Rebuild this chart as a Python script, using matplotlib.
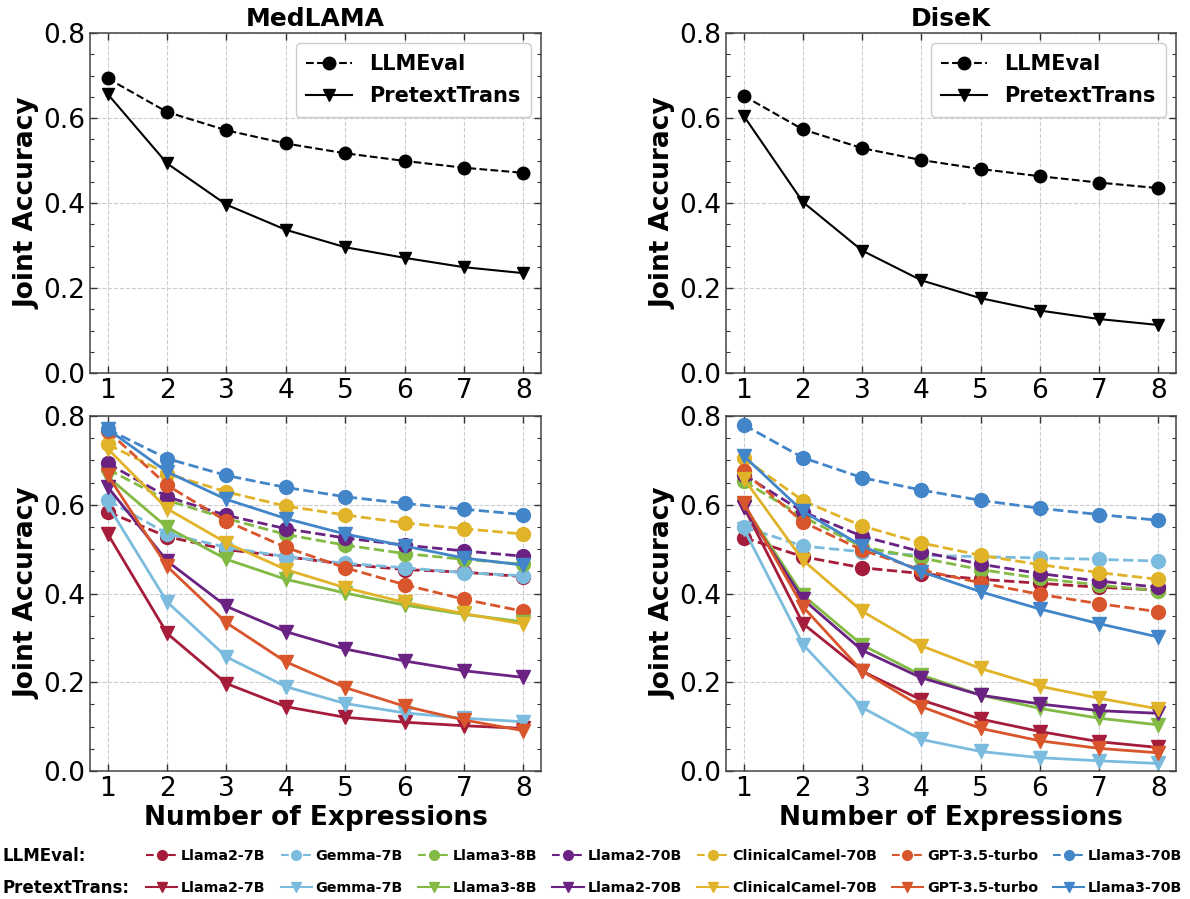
import numpy as np
import matplotlib
matplotlib.use("Agg")
import matplotlib.pyplot as plt
from matplotlib.lines import Line2D
from matplotlib.ticker import MultipleLocator

x = [1, 2, 3, 4, 5, 6, 7, 8]

models = ["Llama2-7B", "Gemma-7B", "Llama3-8B", "Llama2-70B",
          "ClinicalCamel-70B", "GPT-3.5-turbo", "Llama3-70B"]
colors = ["#A51D3A", "#7BBCDE", "#82BA44", "#6A2383",
          "#E0B329", "#D9552B", "#4285C8"]

# averaged curves (top row)
med_llmeval = [0.693, 0.614, 0.571, 0.540, 0.517, 0.499, 0.483, 0.471]
med_pretext = [0.656, 0.493, 0.396, 0.337, 0.296, 0.271, 0.249, 0.235]
dis_llmeval = [0.652, 0.573, 0.529, 0.501, 0.480, 0.463, 0.448, 0.435]
dis_pretext = [0.605, 0.402, 0.288, 0.218, 0.176, 0.147, 0.127, 0.113]

# per model curves (bottom row), same order as models
med_llm_models = [
    [0.584, 0.528, 0.499, 0.483, 0.466, 0.454, 0.448, 0.438],
    [0.610, 0.535, 0.504, 0.483, 0.468, 0.458, 0.447, 0.440],
    [0.680, 0.610, 0.569, 0.533, 0.509, 0.490, 0.477, 0.466],
    [0.693, 0.618, 0.576, 0.546, 0.525, 0.509, 0.496, 0.484],
    [0.736, 0.670, 0.629, 0.597, 0.577, 0.559, 0.546, 0.534],
    [0.766, 0.644, 0.563, 0.504, 0.458, 0.420, 0.387, 0.360],
    [0.770, 0.704, 0.666, 0.639, 0.618, 0.603, 0.590, 0.578],
]
med_pre_models = [
    [0.534, 0.310, 0.197, 0.145, 0.121, 0.110, 0.102, 0.096],
    [0.599, 0.381, 0.257, 0.190, 0.152, 0.131, 0.119, 0.111],
    [0.663, 0.549, 0.477, 0.432, 0.401, 0.374, 0.353, 0.336],
    [0.640, 0.473, 0.371, 0.314, 0.275, 0.248, 0.226, 0.211],
    [0.726, 0.591, 0.514, 0.454, 0.413, 0.380, 0.355, 0.331],
    [0.666, 0.461, 0.334, 0.246, 0.188, 0.146, 0.115, 0.091],
    [0.770, 0.674, 0.612, 0.569, 0.534, 0.507, 0.480, 0.464],
]
dis_llm_models = [
    [0.526, 0.483, 0.458, 0.445, 0.432, 0.423, 0.414, 0.408],
    [0.550, 0.507, 0.494, 0.486, 0.483, 0.480, 0.477, 0.473],
    [0.653, 0.573, 0.505, 0.480, 0.454, 0.434, 0.419, 0.406],
    [0.668, 0.584, 0.529, 0.494, 0.466, 0.445, 0.428, 0.414],
    [0.705, 0.609, 0.552, 0.514, 0.486, 0.465, 0.447, 0.432],
    [0.675, 0.561, 0.498, 0.453, 0.424, 0.398, 0.377, 0.359],
    [0.780, 0.706, 0.661, 0.633, 0.610, 0.592, 0.578, 0.565],
]
dis_pre_models = [
    [0.595, 0.332, 0.225, 0.160, 0.117, 0.089, 0.066, 0.053],
    [0.546, 0.285, 0.143, 0.071, 0.044, 0.030, 0.023, 0.017],
    [0.599, 0.396, 0.284, 0.216, 0.171, 0.141, 0.119, 0.104],
    [0.594, 0.387, 0.272, 0.210, 0.171, 0.151, 0.136, 0.130],
    [0.659, 0.475, 0.360, 0.282, 0.231, 0.191, 0.164, 0.140],
    [0.604, 0.370, 0.225, 0.145, 0.096, 0.068, 0.051, 0.041],
    [0.710, 0.585, 0.507, 0.449, 0.404, 0.365, 0.332, 0.302],
]

plt.rcParams['font.family'] = ['DejaVu Sans']

fig = plt.figure(figsize=(11.9, 8.99), dpi=100)

W, H = 1190, 899
def box(l, r, t, b):
    return [l / W, 1 - b / H, (r - l) / W, (b - t) / H]

ax_tl = fig.add_axes(box(90, 541, 33, 373))
ax_tr = fig.add_axes(box(726, 1176, 33, 373))
ax_bl = fig.add_axes(box(90, 541, 416, 771))
ax_br = fig.add_axes(box(726, 1176, 416, 771))


def style(ax):
    ax.set_xlim(0.7, 8.3)
    ax.set_ylim(0, 0.8)
    ax.set_xticks(x)
    ax.set_yticks([0, 0.2, 0.4, 0.6, 0.8])
    ax.yaxis.set_minor_locator(MultipleLocator(0.05))
    ax.tick_params(which='both', direction='in', top=True, right=True,
                   labelsize=19, color='#333333')
    ax.tick_params(which='major', length=5, width=1)
    ax.tick_params(which='minor', length=3, width=0.8)
    ax.grid(True, which='major', linestyle='--', color='#cccccc', linewidth=0.8)
    for s in ax.spines.values():
        s.set_color('#444444')
        s.set_linewidth(1.1)
    ax.set_ylabel('Joint Accuracy', fontsize=19, fontweight='bold', labelpad=2)


for ax, title, llm, pre in [(ax_tl, 'MedLAMA', med_llmeval, med_pretext),
                            (ax_tr, 'DiseK', dis_llmeval, dis_pretext)]:
    ax.plot(x, llm, '--o', color='black', lw=1.5, ms=9, label='LLMEval')
    ax.plot(x, pre, '-v', color='black', lw=1.5, ms=9, label='PretextTrans')
    style(ax)
    ax.set_title(title, fontsize=18, fontweight='bold', pad=5)
    leg = ax.legend(loc='upper right', prop={'weight': 'bold', 'size': 15},
                    handlelength=2.2, borderpad=0.5, labelspacing=0.6,
                    fancybox=True, framealpha=1)
    leg.get_frame().set_edgecolor('#cccccc')

for ax, llm_list, pre_list in [(ax_bl, med_llm_models, med_pre_models),
                               (ax_br, dis_llm_models, dis_pre_models)]:
    for vals, c in zip(llm_list, colors):
        ax.plot(x, vals, '--o', color=c, lw=2, ms=10)
    for vals, c in zip(pre_list, colors):
        ax.plot(x, vals, '-v', color=c, lw=2, ms=10)
    style(ax)
    ax.set_xlabel('Number of Expressions', fontsize=19, fontweight='bold', labelpad=2)

# shared legend at the bottom, one row per method
llm_handles = [Line2D([], [], color=c, ls='--', marker='o', lw=1.5, ms=7) for c in colors]
pre_handles = [Line2D([], [], color=c, ls='-', marker='v', lw=1.5, ms=7) for c in colors]
for handles, yy, name in [(llm_handles, 856, 'LLMEval:'), (pre_handles, 888, 'PretextTrans:')]:
    fig.legend(handles, models, ncol=7, loc='center left',
               bbox_to_anchor=(146 / W, 1 - yy / H), frameon=False,
               prop={'weight': 'bold', 'size': 10.3}, handlelength=2.2,
               handletextpad=0.25, columnspacing=1.05, borderpad=0, borderaxespad=0)
    fig.text(3 / W, 1 - yy / H, name, fontsize=12, fontweight='bold',
             ha='left', va='center')

fig.savefig('out.png', dpi=100)
